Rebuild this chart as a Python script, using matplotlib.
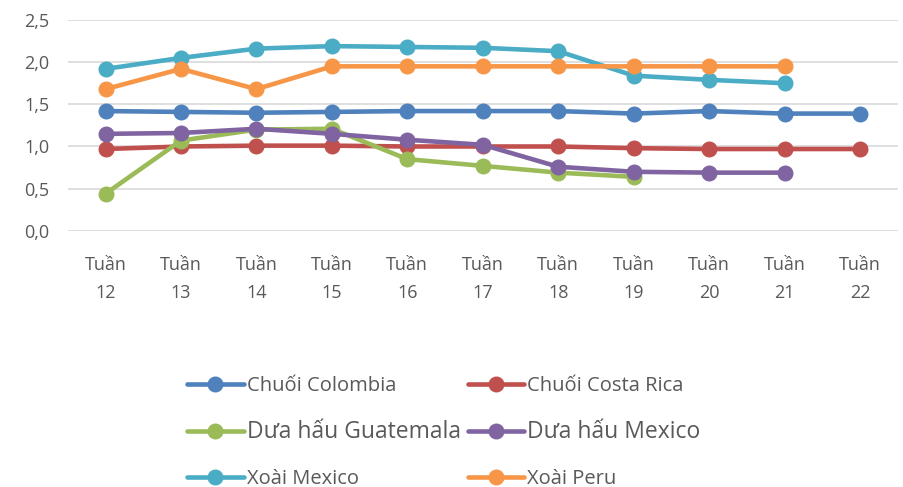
import matplotlib
matplotlib.use("Agg")
import matplotlib.pyplot as plt

plt.rcParams['font.family'] = ['Open Sans', 'DejaVu Sans']

# weeks on the x axis
weeks = ['12', '13', '14', '15', '16', '17', '18', '19', '20', '21', '22']
week_labels = ['Tuần\n' + w for w in weeks]

# values (None = no data)
chuoi_colombia = [1.42, 1.41, 1.40, 1.41, 1.42, 1.42, 1.42, 1.39, 1.42, 1.39, 1.39]
chuoi_costa_rica = [0.97, 1.00, 1.01, 1.01, 1.00, 1.00, 1.00, 0.98, 0.97, 0.97, 0.97]
duahau_guatemala = [0.44, 1.07, 1.20, 1.21, 0.85, 0.77, 0.69, 0.64, None, None, None]
duahau_mexico = [1.15, 1.16, 1.21, 1.15, 1.08, 1.02, 0.76, 0.70, 0.69, 0.69, None]
xoai_mexico = [1.92, 2.05, 2.16, 2.19, 2.18, 2.17, 2.13, 1.84, 1.79, 1.75, None]
xoai_peru = [1.68, 1.92, 1.68, 1.95, 1.95, 1.95, 1.95, 1.95, 1.95, 1.95, None]

series = [
    ('Chuối Colombia', chuoi_colombia, '#4f81bd'),
    ('Chuối Costa Rica', chuoi_costa_rica, '#c0504d'),
    ('Dưa hấu Guatemala', duahau_guatemala, '#9bbb59'),
    ('Dưa hấu Mexico', duahau_mexico, '#8064a2'),
    ('Xoài Mexico', xoai_mexico, '#4bacc6'),
    ('Xoài Peru', xoai_peru, '#f79646'),
]

fig = plt.figure(figsize=(9.04, 4.87), dpi=100)
ax = fig.add_axes([0.075, 0.526, 0.918, 0.433])

x = list(range(len(weeks)))
lines = []
for name, vals, col in series:
    xs = [i for i, v in zip(x, vals) if v is not None]
    ys = [v for v in vals if v is not None]
    ln, = ax.plot(xs, ys, color=col, lw=3.3, marker='o', markersize=10.5,
                  label=name, solid_capstyle='round')
    lines.append(ln)

ax.set_xlim(-0.5, len(weeks) - 0.5)
ax.set_ylim(0, 2.5)
ax.set_yticks([0, 0.5, 1.0, 1.5, 2.0, 2.5])
ax.set_yticklabels(['0,0', '0,5', '1,0', '1,5', '2,0', '2,5'])
ax.set_xticks(x)
ax.set_xticklabels(week_labels, linespacing=1.75)
ax.tick_params(length=0, labelsize=13, colors='#595959')
ax.tick_params(axis='x', pad=18)
ax.tick_params(axis='y', pad=13)
ax.grid(axis='y', color='#d9d9d9', lw=1.2)
ax.set_axisbelow(True)
for s in ax.spines.values():
    s.set_visible(False)

# legend is filled row by row in the reference
order = [0, 2, 4, 1, 3, 5]
leg = fig.legend([lines[i] for i in order], [series[i][0] for i in order],
                 loc='center left', bbox_to_anchor=(0.207, 0.112), ncol=2,
                 frameon=False, fontsize=14.5, handlelength=2.8,
                 handletextpad=0.15, columnspacing=0.35, labelspacing=1.2,
                 labelcolor='#595959', borderpad=0, borderaxespad=0)
# the middle row of the legend is drawn a bit larger in the reference
for t in leg.get_texts():
    if t.get_text().startswith('Dưa'):
        t.set_fontsize(16.5)

fig.savefig('out.png', dpi=100)
